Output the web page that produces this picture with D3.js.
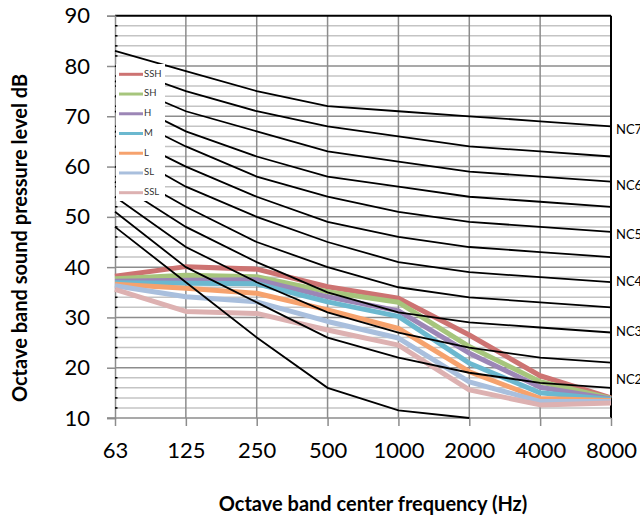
<!DOCTYPE html>
<html><head><meta charset="utf-8">
<script src="https://cdn.jsdelivr.net/npm/d3@7"></script>
<style>body{margin:0;background:#fff}svg{display:block}text{font-family:Lato,"Open Sans",sans-serif}</style>
</head><body>
<svg id="c" width="640" height="519"></svg>
<script>
const categories = ["63","125","250","500","1000","2000","4000","8000"];
const yTickValues = [10,20,30,40,50,60,70,80,90];

// NC reference curves (dB)
const nc70 = [83,79,75,72,71,70,69,68];
const nc65 = [80,75,71,68,66,64,63,62];
const nc60 = [77,71,67,63,61,59,58,57];
const nc55 = [74,67,62,58,56,54,53,52];
const nc50 = [71,64,58,54,51,49,48,47];
const nc45 = [67,60,54,49,46,44,43,42];
const nc40 = [64,56,50,45,41,39,38,37];
const nc35 = [60,52,45,40,36,34,33,32];
const nc30 = [57,48,41,35,31,29,28,27];
const nc25 = [54,44,37,31,27,24,22,21];
const nc20 = [51,40,33,26,22,19,17,16];
const ncLow = [48,37,26,16,11.5,10,null,null];
const ncCurves = [nc70,nc65,nc60,nc55,nc50,nc45,nc40,nc35,nc30,nc25,nc20,ncLow];

const ncLabels = ["NC70","NC60","NC50","NC40","NC30","NC20"];
const ncLabelLevels = [67.1,56,46.2,37,27,17.4];

// measured series
const seriesNames = ["SSH","SH","H","M","L","SL","SSL"];
const ssh = [38.2,40.1,39.6,36.1,33.8,26.5,18.4,14.0];
const sh  = [37.7,38.4,38.1,35.1,33.0,24.2,17.2,13.9];
const h   = [37.2,37.4,37.5,34.1,31.3,22.9,16.1,13.8];
const m   = [36.9,36.8,36.7,33.1,30.2,20.9,15.0,13.7];
const l   = [36.6,35.8,34.8,31.5,27.8,19.2,13.9,13.5];
const sl  = [36.3,34.1,33.1,29.2,25.9,17.2,13.3,13.3];
const ssl = [35.6,31.2,30.8,27.5,24.5,15.6,12.6,13.0];
const seriesValues = [ssh,sh,h,m,l,sl,ssl];
const seriesColors = ["#CD7372","#A6C57C","#9C86B6","#6BB8CF","#F6A26D","#A9BFDD","#DDB1B1"];

const svg = d3.select("#c");
const L = 115, R = 611, T = 15.7, B = 418;
const x = d3.scalePoint().domain(categories).range([L, R]);
const y = d3.scaleLinear().domain([10, 90]).range([B, T]);

// gridlines
const minor = d3.range(12, 90, 2).filter(v => v % 10 !== 0);
svg.append("g").selectAll("line").data(minor).join("line")
  .attr("x1", L).attr("x2", R).attr("y1", d => y(d)).attr("y2", d => y(d))
  .attr("stroke", "#c4c4c4").attr("stroke-width", 1.5);
svg.append("g").selectAll("line").data(yTickValues.slice(1, -1)).join("line")
  .attr("x1", L).attr("x2", R).attr("y1", d => y(d)).attr("y2", d => y(d))
  .attr("stroke", "#8c8c8c").attr("stroke-width", 1.5);
svg.append("g").selectAll("line").data(categories.slice(1, -1)).join("line")
  .attr("x1", d => x(d)).attr("x2", d => x(d)).attr("y1", T).attr("y2", B)
  .attr("stroke", "#8c8c8c").attr("stroke-width", 1.5);

// border top/right
svg.append("line").attr("x1", L).attr("x2", R).attr("y1", T).attr("y2", T).attr("stroke", "#000").attr("stroke-width", 2);
svg.append("line").attr("x1", R).attr("x2", R).attr("y1", T).attr("y2", B).attr("stroke", "#000").attr("stroke-width", 2);

// y axis
const yAxis = d3.axisLeft(y).tickValues(yTickValues).tickSize(8).tickPadding(17);
const gy = svg.append("g").attr("transform", `translate(${L},0)`).call(yAxis);
gy.select(".domain").attr("stroke", "#8c8c8c").attr("stroke-width", 1.5);
gy.selectAll(".tick line").attr("stroke", "#8c8c8c").attr("stroke-width", 1.5);
gy.selectAll("text").attr("font-size", 22).attr("fill", "#000").attr("font-family", "Lato");
// minor inside ticks
svg.append("g").selectAll("line").data(minor).join("line")
  .attr("x1", L).attr("x2", L + 2.5).attr("y1", d => y(d)).attr("y2", d => y(d))
  .attr("stroke", "#000").attr("stroke-width", 1.5);

// x axis
const xAxis = d3.axisBottom(x).tickSize(8).tickPadding(16);
const gx = svg.append("g").attr("transform", `translate(0,${B})`).call(xAxis);
gx.select(".domain").attr("stroke", "#8c8c8c").attr("stroke-width", 1.5).attr("d", `M${L - 8},0H${R}`);
gx.selectAll(".tick line").attr("stroke", "#8c8c8c").attr("stroke-width", 1.5);
gx.selectAll("text").attr("font-size", 22).attr("fill", "#000").attr("font-family", "Lato");

// measured series
const line = d3.line().defined(d => d != null).x((d, i) => x(categories[i])).y(d => y(d));
svg.append("g").selectAll("path").data(seriesValues).join("path")
  .attr("d", d => line(d)).attr("fill", "none")
  .attr("stroke", (d, i) => seriesColors[i]).attr("stroke-width", 5)
  .attr("stroke-linejoin", "round");

// NC curves
svg.append("g").selectAll("path").data(ncCurves).join("path")
  .attr("d", d => line(d)).attr("fill", "none")
  .attr("stroke", "#000").attr("stroke-width", 1.8);

// NC labels
svg.append("g").selectAll("text").data(ncLabels).join("text")
  .attr("x", R + 5).attr("y", (d, i) => y(ncLabelLevels[i]))
  .attr("dominant-baseline", "middle").attr("font-size", 13).text(d => d);

// legend
const lg = svg.append("g");
lg.append("rect").attr("x", 116).attr("y", 64).attr("width", 49).attr("height", 137).attr("fill", "#fff");
const ly = d3.scalePoint().domain(seriesNames).range([74.3, 192.7]);
lg.selectAll("line").data(seriesNames).join("line")
  .attr("x1", 119).attr("x2", 143).attr("y1", d => ly(d)).attr("y2", d => ly(d))
  .attr("stroke", (d, i) => seriesColors[i]).attr("stroke-width", 3);
lg.selectAll("text").data(seriesNames).join("text")
  .attr("x", 144).attr("y", d => ly(d)).attr("dominant-baseline", "middle")
  .attr("font-size", 9.5).attr("fill", "#333").text(d => d);

// axis titles
svg.append("text").attr("transform", "translate(22,238) rotate(-90)")
  .attr("text-anchor", "middle").attr("dominant-baseline", "middle")
  .attr("font-weight", "bold").attr("font-size", 20).text("Octave band sound pressure level dB");
svg.append("text").attr("x", 373).attr("y", 506)
  .attr("text-anchor", "middle").attr("dominant-baseline", "middle")
  .attr("font-weight", "bold").attr("font-size", 20).text("Octave band center frequency (Hz)");
</script>
</body></html>
